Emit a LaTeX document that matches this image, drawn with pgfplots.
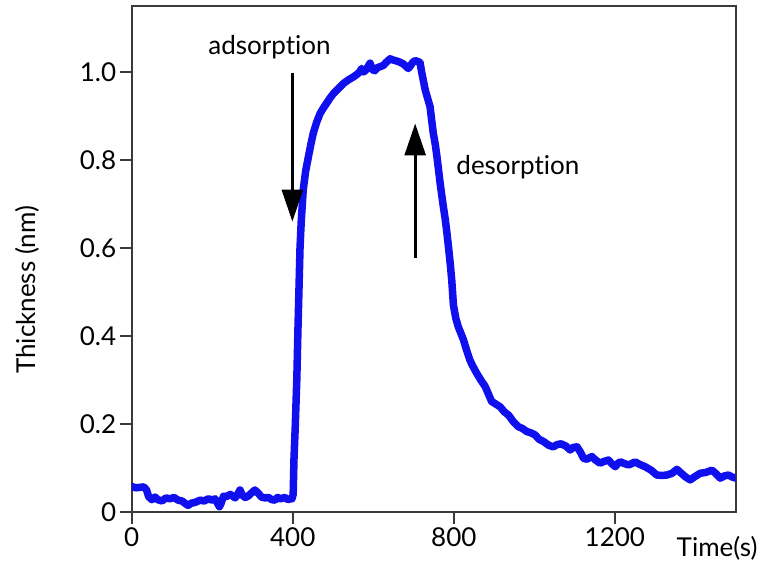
\documentclass[border=0pt]{standalone}
\usepackage{fontspec}
\setmainfont{Lato}[Ligatures={NoCommon,NoRare}, Contextuals={NoAlternate}]
\usepackage{pgfplots}
\pgfplotsset{compat=1.18}
\usetikzlibrary{arrows.meta}
\definecolor{trace}{HTML}{1010EE}
\definecolor{frame}{HTML}{3A3A3A}

\begin{document}
\begin{tikzpicture}
\path[use as bounding box] (-131.7pt,-56pt) rectangle (634.3pt,512pt);
\begin{axis}[
  at={(0,0)}, anchor=south west,
  scale only axis, width=604pt, height=506pt,
  xmin=0, xmax=1500, ymin=0, ymax=1.15,
  xtick={0,400,800,1200}, xticklabels={0,400,800,1200},
  ytick={0,0.2,0.4,0.6,0.8,1.0}, yticklabels={0,0.2,0.4,0.6,0.8,1.0},
  tick pos=left, tick align=outside, major tick length=12pt,
  axis line style={draw=frame, line width=1.8pt},
  tick style={draw=frame, line width=1.8pt},
  tick label style={font=\fontsize{26}{30}\selectfont},
  label style={font=\fontsize{26}{30}\selectfont},
  xlabel={Time(s)}, ylabel={Thickness (nm)},
  xlabel style={at={(axis description cs:0.902,-0.0883)}, anchor=base west, inner sep=0pt},
  ylabel style={at={(axis description cs:-0.173,0.439)}, anchor=center, inner sep=0pt},
  clip=true,
]
\addplot[trace, line width=7.5pt, line join=round, line cap=round] coordinates {
(0,0.058) (10,0.055) (20,0.056) (30,0.057) (37,0.05) (42,0.035) (50,0.028) (58,0.034)
(65,0.028) (75,0.025) (85,0.032) (95,0.03) (105,0.033) (115,0.027) (125,0.025) (132,0.02)
(140,0.015) (148,0.02) (158,0.022) (170,0.027) (180,0.025) (190,0.03) (200,0.027) (207,0.03)
(213,0.02) (218,0.012) (222,0.02) (228,0.036) (235,0.035) (245,0.04) (257,0.032) (263,0.04)
(269,0.05) (275,0.038) (282,0.033) (289,0.036) (296,0.042) (306,0.05) (315,0.042) (322,0.034)
(331,0.032) (340,0.033) (348,0.028) (356,0.027) (362,0.033) (370,0.03) (376,0.032) (381,0.033)
(388,0.028) (394,0.03) (398,0.03)
(401,0.04) (403,0.12) (406,0.19) (410,0.3) (413,0.42) (416,0.527) (418,0.6) (421,0.66)
(426,0.732) (432,0.775) (439,0.808) (445,0.836) (451,0.861) (459,0.885) (468,0.906) (476,0.918)
(484,0.929) (492,0.94) (501,0.951) (513,0.962) (526,0.974) (538,0.982) (551,0.989) (560,0.995)
(566,1.0) (571,1.008) (576,1.0) (582,1.005) (592,1.02) (598,1.005) (604,1.003) (610,1.01)
(617,1.012) (625,1.015) (632,1.022) (642,1.03) (650,1.027) (658,1.025) (667,1.022) (675,1.018)
(682,1.012) (687,1.008) (693,1.015) (698,1.022) (704,1.026) (710,1.024) (716,1.022)
(720,1.0) (724,0.982) (729,0.959) (735,0.94) (741,0.921) (745,0.89) (749,0.861) (754,0.835)
(758,0.808) (762,0.778) (766,0.747) (770,0.72) (774,0.694) (779,0.663) (783,0.633) (787,0.6)
(791,0.565) (795,0.525) (799,0.47) (805,0.44) (811,0.421) (818,0.405) (824,0.391) (832,0.367)
(840,0.345) (848,0.33) (857,0.315) (867,0.3) (878,0.285) (886,0.268) (894,0.251) (903,0.246)
(915,0.239) (925,0.228) (936,0.22) (948,0.205) (960,0.194) (970,0.19) (981,0.183) (991,0.18)
(1002,0.175) (1012,0.165) (1023,0.16) (1035,0.152) (1047,0.148) (1056,0.153) (1066,0.155) (1078,0.15)
(1089,0.141) (1097,0.147) (1106,0.148) (1115,0.135) (1122,0.122) (1130,0.12) (1143,0.126) (1152,0.118)
(1163,0.111) (1173,0.115) (1184,0.118) (1192,0.11) (1201,0.103) (1207,0.11) (1213,0.114) (1224,0.11)
(1234,0.107) (1242,0.11) (1250,0.114) (1262,0.108) (1275,0.103) (1290,0.095) (1304,0.084) (1316,0.083)
(1329,0.084) (1342,0.088) (1354,0.097) (1365,0.088) (1375,0.08) (1387,0.073) (1398,0.08) (1412,0.088)
(1426,0.09) (1441,0.095) (1450,0.088) (1462,0.077) (1472,0.082) (1482,0.084) (1490,0.08) (1500,0.077)
};
% annotations
\draw[black, line width=2.7pt, -{Triangle[width=21pt,length=32pt]}] (axis cs:399,0.997) -- (axis cs:399,0.66);
\draw[black, line width=2.7pt, -{Triangle[width=21pt,length=32pt]}] (axis cs:704,0.577) -- (axis cs:704,0.883);
\node[anchor=base west, inner sep=0pt, font=\fontsize{26}{30}\selectfont] at (axis cs:190,1.04) {adsorption};
\node[anchor=base west, inner sep=0pt, font=\fontsize{26}{30}\selectfont] at (axis cs:806,0.766) {desorption};
\end{axis}
\end{tikzpicture}
\end{document}
